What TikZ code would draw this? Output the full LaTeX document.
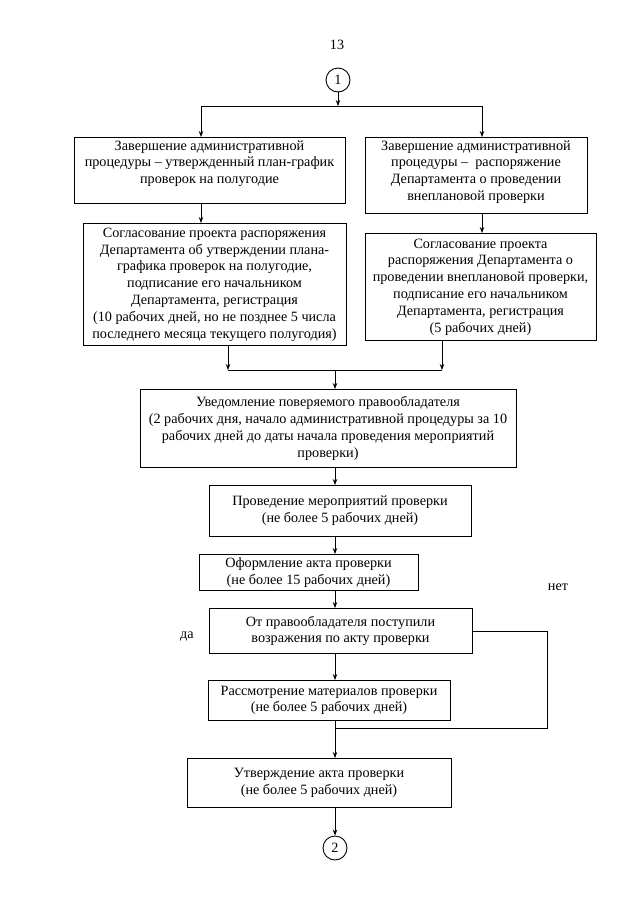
\documentclass[tikz,border=0pt]{standalone}
\usepackage{fontspec}
\setmainfont{Liberation Serif}
\usetikzlibrary{arrows.meta,calc}
\newcommand\bxtext[4]{\parbox[c][#2pt][#3]{#1pt}{\centering #4\par}}
\tikzset{
 box/.style={draw, line width=0.9pt, inner sep=0pt, anchor=north},
 arr/.style={-{Stealth[length=6pt,width=4.5pt]}, line width=0.8pt},
 ln/.style={line width=0.8pt},
 circ/.style={draw, circle, minimum size=24pt, inner sep=0pt, line width=0.9pt},
 lbl/.style={inner sep=0pt}
}
\begin{document}
\begin{tikzpicture}[x=1pt,y=-1pt,font=\fontsize{14.2}{16.8}\selectfont]
\useasboundingbox (0,0) rectangle (640,905);
\node[lbl] (pg) at (337,45) {13};
\node[circ] (c1) at (338,80) {1};
\node[box] (b1L) at (209.5,137) {\bxtext{271}{66}{t}{\vspace*{3pt}Завершение административной\\процедуры – утвержденный план-график\\проверок на полугодие}};
\node[box] (b1R) at (476,137) {\bxtext{222}{76}{t}{\vspace*{3pt}Завершение административной\\процедуры –~ распоряжение\\Департамента о проведении\\внеплановой проверки}};
\node[box] (b2L) at (214.5,223) {\bxtext{263}{122}{c}{Согласование проекта распоряжения\\Департамента об утверждении плана-\\графика проверок на полугодие,\\подписание его начальником\\Департамента, регистрация\\(10 рабочих дней, но не позднее 5 числа\\последнего месяца текущего полугодия)}};
\node[box] (b2R) at (480.5,233) {\bxtext{231}{107}{c}{Согласование проекта\\распоряжения Департамента о\\проведении внеплановой проверки,\\подписание его начальником\\Департамента, регистрация\\(5 рабочих дней)}};
\node[box] (b3) at (328,389) {\bxtext{376}{78}{c}{Уведомление поверяемого правообладателя\\(2 рабочих дня, начало административной процедуры за 10\\рабочих дней до даты начала проведения мероприятий\\проверки)}};
\node[box] (b4) at (340,485) {\bxtext{262}{51}{c}{Проведение мероприятий проверки\\(не более 5 рабочих дней)}};
\node[box] (b5) at (308.5,554) {\bxtext{219}{36}{c}{Оформление акта проверки\\(не более 15 рабочих дней)}};
\node[box] (b6) at (340.5,608) {\bxtext{263}{45}{c}{От правообладателя поступили\\возражения по акту проверки}};
\node[box] (b7) at (329,680) {\bxtext{242}{40}{c}{Рассмотрение материалов проверки\\(не более 5 рабочих дней)}};
\node[box] (b8) at (319,758) {\bxtext{264}{49}{c}{Утверждение акта проверки\\(не более 5 рабочих дней)}};
\node[circ] (c2) at (335,848) {2};
\node[lbl] (net) at (558,587) {нет};
\node[lbl] (da) at (187,637) {да};
% connectors
\coordinate (j1) at (338,106);
\coordinate (jl) at (201,106);
\coordinate (jr) at (482,106);
\draw[arr] (c1) -- (j1);
\draw[ln] (jl) -- (jr);
\draw[arr] (jl) -- (jl |- b1L.north);
\draw[arr] (jr) -- (jr |- b1R.north);
\draw[arr] (b1L.south -| jl) -- (b2L.north -| jl);
\draw[arr] (b1R.south -| jr) -- (b2R.north -| jr);
\coordinate (m1) at (228,370);
\coordinate (m2) at (442,370);
\coordinate (m0) at (335,370);
\draw[arr] (b2L.south -| m1) -- (m1);
\draw[arr] (b2R.south -| m2) -- (m2);
\draw[ln] (m1) -- (m2);
\draw[arr] (m0) -- (m0 |- b3.north);
\coordinate (ax) at (335,0);
\draw[arr] (b3.south -| ax) -- (b4.north -| ax);
\draw[arr] (b4.south -| ax) -- (b5.north -| ax);
\draw[arr] (b5.south -| ax) -- (b6.north -| ax);
\draw[arr] (b6.south -| ax) -- (b7.north -| ax);
\coordinate (n1) at (547,631);
\coordinate (n2) at (335,728);
\draw[ln] (b6.east |- n1) -- (n1) |- (n2);
\draw[arr] (b7.south -| ax) -- (b8.north -| ax);
\draw[arr] (b8.south -| ax) -- (c2);
\end{tikzpicture}
\end{document}
